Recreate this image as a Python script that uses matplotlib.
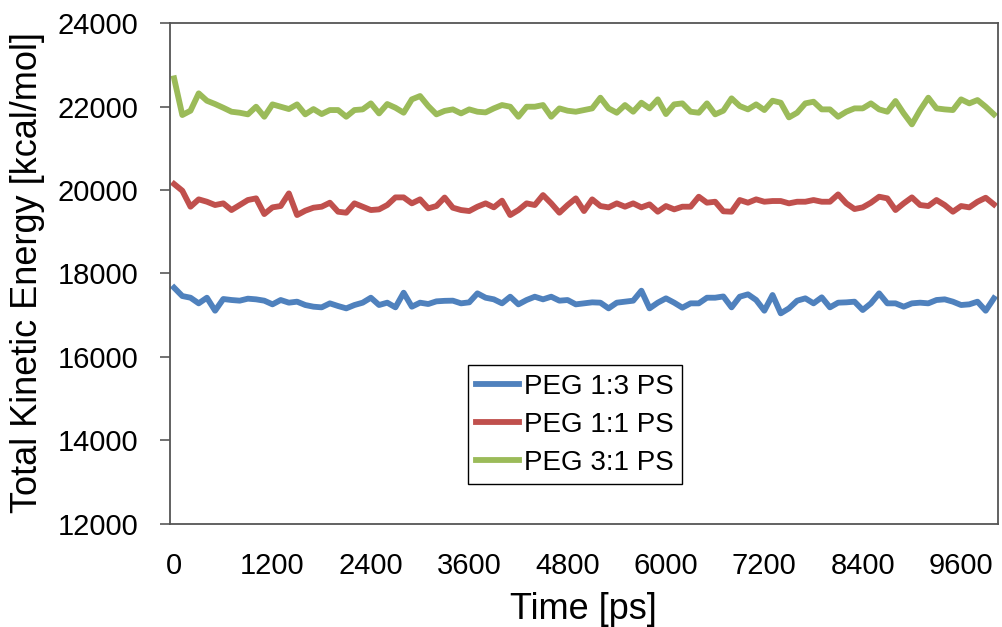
import numpy as np
import matplotlib
matplotlib.use("Agg")
import matplotlib.pyplot as plt

# 0. Data (one point every 100 ps)
time_ps = list(range(0, 10001, 100))

peg_1_3 = [17660, 17460, 17420, 17285, 17420, 17109, 17389, 17365, 17349, 17397,
           17381, 17349, 17261, 17365, 17301, 17325, 17245, 17205, 17189, 17285,
           17221, 17165, 17245, 17301, 17420, 17245, 17301, 17189, 17540, 17205,
           17301, 17269, 17333, 17345, 17349, 17285, 17309, 17524, 17420, 17381,
           17285, 17444, 17261, 17365, 17444, 17381, 17444, 17349, 17365, 17261,
           17285, 17309, 17301, 17165, 17301, 17325, 17349, 17588, 17165, 17301,
           17405, 17301, 17181, 17285, 17285, 17420, 17420, 17450, 17189, 17444,
           17501, 17365, 17109, 17485, 17045, 17165, 17349, 17405, 17285, 17429,
           17189, 17301, 17309, 17325, 17125, 17285, 17524, 17285, 17285, 17205,
           17285, 17301, 17285, 17365, 17381, 17325, 17245, 17261, 17325, 17109,
           17405]

peg_1_1 = [20143, 19983, 19600, 19776, 19719, 19640, 19680, 19520, 19640, 19760,
           19800, 19424, 19584, 19616, 19919, 19400, 19504, 19576, 19600, 19696,
           19480, 19456, 19680, 19600, 19520, 19536, 19640, 19823, 19823, 19680,
           19776, 19560, 19616, 19820, 19576, 19520, 19496, 19600, 19680, 19584,
           19744, 19400, 19520, 19680, 19640, 19879, 19680, 19456, 19640, 19800,
           19496, 19776, 19616, 19584, 19680, 19600, 19680, 19584, 19656, 19480,
           19616, 19536, 19600, 19600, 19839, 19696, 19719, 19490, 19480, 19760,
           19696, 19776, 19719, 19736, 19736, 19680, 19719, 19719, 19760, 19719,
           19719, 19895, 19680, 19544, 19584, 19696, 19839, 19800, 19520, 19680,
           19823, 19640, 19616, 19760, 19640, 19480, 19616, 19584, 19719, 19815,
           19656]

peg_3_1 = [22675, 21796, 21899, 22315, 22138, 22059, 21970, 21875, 21851, 21812,
           21995, 21755, 22051, 21995, 21939, 22051, 21812, 21939, 21819, 21915,
           21915, 21755, 21915, 21931, 22075, 21835, 22059, 21970, 21851, 22171,
           22251, 22011, 21812, 21895, 21931, 21835, 21931, 21875, 21859, 21955,
           22035, 21995, 21755, 21995, 21995, 22035, 21755, 21955, 21899, 21875,
           21915, 21955, 22211, 21955, 21851, 22035, 21875, 22091, 21955, 22171,
           21819, 22051, 22075, 21875, 21851, 22075, 21812, 21900, 22195, 22011,
           21931, 22051, 21915, 22139, 22091, 21739, 21851, 22075, 22115, 21931,
           21931, 21755, 21875, 21955, 21955, 22075, 21931, 21875, 22131, 21835,
           21572, 21915, 22211, 21955, 21931, 21915, 22171, 22075, 22155, 21995,
           21812]

labels = ["PEG 1:3 PS", "PEG 1:1 PS", "PEG 3:1 PS"]
colors = ["#4F81BD", "#C0504D", "#9BBB59"]
x_ticks = [0, 1200, 2400, 3600, 4800, 6000, 7200, 8400, 9600]
y_ticks = [12000, 14000, 16000, 18000, 20000, 22000, 24000]

plt.rcParams["font.family"] = ["Liberation Sans", "DejaVu Sans"]

# 1. Figure
fig = plt.figure(figsize=(10.03, 6.27), dpi=100)
ax = fig.add_axes([0.1695, 0.1643, 0.8255, 0.799])

for series, lab, col in zip([peg_1_3, peg_1_1, peg_3_1], labels, colors):
    ax.plot(time_ps, series, color=col, lw=4.2, label=lab, solid_joinstyle="round")

ax.set_xlim(-50, 10050)
ax.set_ylim(12000, 24000)
ax.set_xticks(x_ticks)
ax.set_yticks(y_ticks)
ax.tick_params(axis="y", direction="out", length=7, width=1.3, color="#666666",
               pad=16, labelsize=21)
ax.tick_params(axis="x", length=0, pad=20, labelsize=21)

for sp in ax.spines.values():
    sp.set_color("#555555")
    sp.set_linewidth(1.3)

ax.set_xlabel("Time [ps]", fontsize=26)
ax.xaxis.set_label_coords(0.499, -0.135)
# y label placed in figure coords so it sits at the left edge like the reference
fig.text(0.01, 0.565, "Total Kinetic Energy [kcal/mol]", rotation=90,
         ha="left", va="center", fontsize=26)

leg = ax.legend(loc="upper left", bbox_to_anchor=(0.36, 0.317), borderaxespad=0,
                fontsize=20, handlelength=1.55, handletextpad=0.15,
                labelspacing=0.44, borderpad=0.3, fancybox=False, framealpha=1)
leg.get_frame().set_edgecolor("black")
leg.get_frame().set_linewidth(1.0)

plt.savefig("out.png", dpi=100)
